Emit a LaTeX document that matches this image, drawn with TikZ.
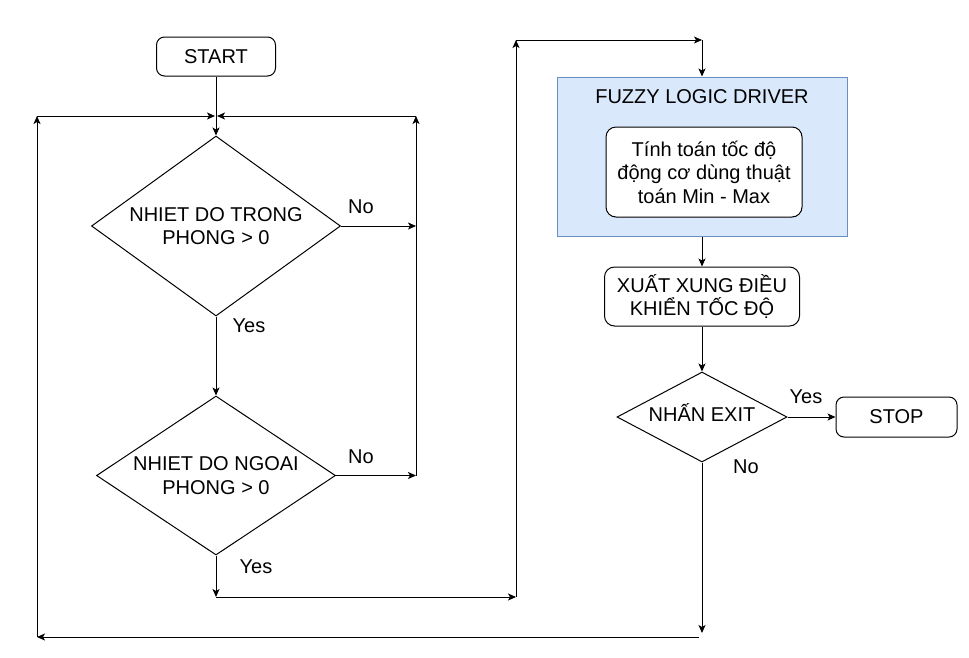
\documentclass[tikz,border=0pt]{standalone}
\usepackage{fontspec}
\setmainfont{Liberation Sans}
\usepackage{tikz}
\usetikzlibrary{arrows.meta,shapes.geometric}
\definecolor{fuzzyfill}{HTML}{DAE8FC}
\definecolor{fuzzyline}{HTML}{6C8EBF}

\begin{document}
\begin{tikzpicture}[x=1pt,y=1pt,line width=1pt,
	every node/.style={font=\fontsize{20}{23.5}\selectfont, inner sep=0pt},
	term/.style={draw, rounded corners=8pt, minimum width=119pt, minimum height=39pt},
	proc/.style={draw, rounded corners=10pt, align=center},
	cond/.style={draw, diamond, align=center},
	flow/.style={-{Stealth[length=8pt,width=7pt,inset=2pt]}}]
	\useasboundingbox (0,0) rectangle (969,-657);
	% left column
	\node[term] (start) at (216,-56.5) {START};
	\node[cond, minimum width=249pt, minimum height=180pt, aspect=1.38] (d1) at (216,-226) {NHIET DO TRONG\\PHONG > 0};
	\node[cond, minimum width=239pt, minimum height=159pt, aspect=1.5] (d2) at (216,-475.5) {NHIET DO NGOAI\\PHONG > 0};
	% right column
	\node[draw=fuzzyline, fill=fuzzyfill, minimum width=290pt, minimum height=159pt] (fuzzy) at (702,-156.5) {};
	\node (fuzzytitle) at (702,-97) {FUZZY LOGIC DRIVER};
	\node[proc, fill=white, minimum width=196pt, minimum height=90pt] (minmax) at (704,-172) {Tính toán tốc độ\\động cơ dùng thuật\\toán Min - Max};
	\node[proc, minimum width=195pt, minimum height=59pt] (xuat) at (702,-296.5) {XUẤT XUNG ĐIỀU\\KHIỂN TỐC ĐỘ};
	\node[cond, minimum width=170pt, minimum height=90pt, aspect=1.89, text height=15pt, text depth=6pt] (d3) at (702,-417) {NHẤN EXIT};
	\node[term, minimum width=121pt, minimum height=40pt] (stop) at (896.5,-417) {STOP};
	% bends
	\coordinate (noTrong) at (416,-226);
	\coordinate (noNgoai) at (416,-475.5);
	\coordinate (rightTop) at (416,-116);
	\coordinate (mergeR) at (217,-116);
	\coordinate (mergeL) at (215,-116);
	\coordinate (leftTop) at (37,-116);
	\coordinate (leftBot) at (37,-637);
	\coordinate (exitEnd) at (702,-633);
	\coordinate (bottomR) at (699,-637);
	\coordinate (yesEnd) at (216,-597);
	\coordinate (busR) at (516,-597);
	\coordinate (busTop) at (516,-40);
	\coordinate (fuzzyTop) at (702,-40);
	% connectors
	\draw[flow] (start) -- (d1);
	\draw[flow] (d1) -- (d2);
	\draw[flow] (d1.east) -- (noTrong);
	\draw[flow] (d2.east) -- (noNgoai);
	\draw[flow] (noNgoai) -- (rightTop);
	\draw[flow] (rightTop) -- (mergeR);
	\draw[flow] (d3.south) -- (exitEnd);
	\draw[flow] (bottomR) -- (leftBot);
	\draw[flow] (leftBot) -- (leftTop);
	\draw[flow] (leftTop) -- (mergeL);
	\draw[flow] (d2.south) -- (yesEnd);
	\draw[flow] (yesEnd) -- (busR);
	\draw[flow] (busR) -- (busTop);
	\draw[flow] (busTop) -- (fuzzyTop);
	\draw[flow] (fuzzyTop) -- (fuzzy.north);
	\draw[flow] (fuzzy) -- (xuat);
	\draw[flow] (xuat) -- (d3);
	\draw[flow] (d3.east) -- (stop.west);
	% labels
	\node (yes1) at (249,-326) {Yes};
	\node (no1) at (361,-207) {No};
	\node (no2) at (361,-457) {No};
	\node (yes2) at (256,-567) {Yes};
	\node (yes3) at (806,-397) {Yes};
	\node (no3) at (746,-467) {No};
\end{tikzpicture}
\end{document}
